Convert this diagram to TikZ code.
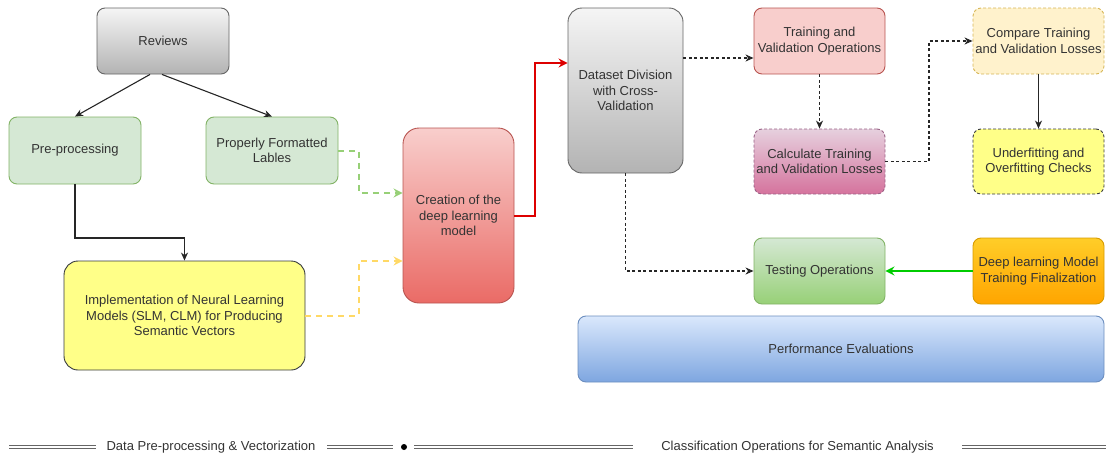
\documentclass[tikz,border=0pt]{standalone}
\usepackage{fontspec}
\setmainfont{Liberation Sans}
\usetikzlibrary{arrows.meta}
\definecolor{txt}{HTML}{333333}
\definecolor{gfill}{HTML}{D5E8D4}\definecolor{gline}{HTML}{82B366}
\definecolor{gbot}{HTML}{97D077}
\definecolor{yfill}{HTML}{FFFF88}\definecolor{yline}{HTML}{36393D}
\definecolor{rtop}{HTML}{F8CECC}\definecolor{rbot}{HTML}{EA6B66}\definecolor{rline}{HTML}{B85450}
\definecolor{ptop}{HTML}{E6D0DE}\definecolor{pbot}{HTML}{D5739D}\definecolor{pline}{HTML}{996185}
\definecolor{ofill}{HTML}{FFF2CC}\definecolor{oline}{HTML}{D6B656}
\definecolor{dtop}{HTML}{FFCD28}\definecolor{dbot}{HTML}{FFA500}\definecolor{dline}{HTML}{D79B00}
\definecolor{btop}{HTML}{DAE8FC}\definecolor{bbot}{HTML}{7EA6E0}\definecolor{bline}{HTML}{6C8EBF}
\definecolor{stop}{HTML}{F5F5F5}\definecolor{sbot}{HTML}{B3B3B3}\definecolor{sline}{HTML}{666666}
\definecolor{greenarr}{HTML}{00CC00}
\definecolor{redarr}{HTML}{DD0000}
\definecolor{dgreen}{HTML}{97D077}
\definecolor{dyellow}{HTML}{FFD966}
\begin{document}
\begin{tikzpicture}[x=1pt,y=-1pt,
  font=\fontsize{13}{15.6}\selectfont, text=txt,
  box/.style={rectangle, rounded corners=8pt, line width=0.9pt, align=center, inner sep=2pt},
  graybox/.style={box, top color=stop, bottom color=sbot, draw=sline},
  greenbox/.style={box, fill=gfill, draw=gline},
  arr/.style={-{Stealth[length=8pt,width=7pt,inset=2.5pt]}, line width=1.1pt, draw=black!85},
  dots/.style={arr, dash pattern=on 3pt off 2.5pt},
  carr/.style={-{Stealth[length=9pt,width=9pt,inset=3pt]}, line width=2pt},
  dline/.style={double=white, double distance=2.2pt, line width=0.9pt, draw=sline}
]
\useasboundingbox (0,0) rectangle (1106,455);

% nodes
\node[graybox, minimum width=132pt, minimum height=66pt] (rev) at (163,41) {Reviews};
\node[greenbox, minimum width=132pt, minimum height=67pt] (pre) at (75,150.5) {Pre-processing};
\node[greenbox, minimum width=132pt, minimum height=67pt] (lab) at (272,150.5) {Properly Formatted\\Lables};
\node[box, fill=yfill, draw=yline, rounded corners=14pt, minimum width=241pt, minimum height=109pt] (impl) at (184.5,315.5) {Implementation of Neural Learning\\Models (SLM, CLM) for Producing\\Semantic Vectors};
\node[box, top color=rtop, bottom color=rbot, draw=rline, rounded corners=16pt, minimum width=111pt, minimum height=175pt] (cre) at (458.5,215.5) {Creation of the\\deep learning\\model};
\node[graybox, rounded corners=14pt, minimum width=115pt, minimum height=165pt] (ds) at (625.5,90.5) {Dataset Division\\with Cross-\\Validation};
\node[box, fill=rtop, draw=rline, minimum width=131pt, minimum height=66pt] (tvo) at (819.5,41) {Training and\\Validation Operations};
\node[box, top color=ptop, bottom color=pbot, draw=pline, dash pattern=on 3pt off 2pt, minimum width=131pt, minimum height=65pt] (calc) at (819.5,161.5) {Calculate Training\\and Validation Losses};
\node[box, fill=ofill, draw=oline, dash pattern=on 3pt off 2pt, minimum width=131pt, minimum height=66pt] (cmp) at (1038.5,41) {Compare Training\\and Validation Losses};
\node[box, fill=yfill, draw=yline, dash pattern=on 3pt off 2pt, minimum width=131pt, minimum height=65pt] (und) at (1038.5,161.5) {Underfitting and\\Overfitting Checks};
\node[box, top color=gfill, bottom color=gbot, draw=gline, minimum width=131pt, minimum height=66pt] (test) at (819.5,271) {Testing Operations};
\node[box, top color=dtop, bottom color=dbot, draw=dline, minimum width=131pt, minimum height=66pt] (deep) at (1038.5,271) {Deep learning Model\\Training Finalization};
\node[box, top color=btop, bottom color=bbot, draw=bline, minimum width=526pt, minimum height=66pt] (perf) at (841,349) {Performance Evaluations};

% connectors
\draw[arr] ([xshift=-13pt]rev.south) -- (pre.north);
\draw[arr] ([xshift=-1pt]rev.south) -- (lab.north);
\draw[arr] (pre.south) -- (75,238) -| (impl.north);
\draw[carr, draw=dgreen, dash pattern=on 6pt off 5pt] (lab.east) -- (359,150.5) |- ([yshift=22.5pt]cre.west);
\draw[carr, draw=dyellow, dash pattern=on 6pt off 5pt] (impl.east) -- (359,315.5) |- ([yshift=-45.5pt]cre.west);
\draw[carr, draw=redarr] (cre.east) -- (535,215.5) |- ([yshift=27.5pt]ds.west);
\draw[dots] ([yshift=32.5pt]ds.east) -- ([yshift=-17pt]tvo.west);
\draw[dots] (tvo.south) -- (calc.north);
\draw[dots] (calc.east) -- (929,161.5) |- (cmp.west);
\draw[arr] (cmp.south) -- (und.north);
\draw[dots] (ds.south) |- (test.west);
\draw[carr, draw=greenarr] (deep.west) -- (test.east);

% footer
\node (f1) at (211,447) {Data Pre-processing \& Vectorization};
\node (f2) at (797.5,447) {Classification Operations for Semantic Analysis};
\draw[dline] (9,447) -- (96,447);
\draw[dline] (327,447) -- (393,447);
\fill[black] (404,447) circle (3pt);
\draw[dline] (414,447) -- (633,447);
\draw[dline] (962,447) -- (1106,447);
\end{tikzpicture}
\end{document}
